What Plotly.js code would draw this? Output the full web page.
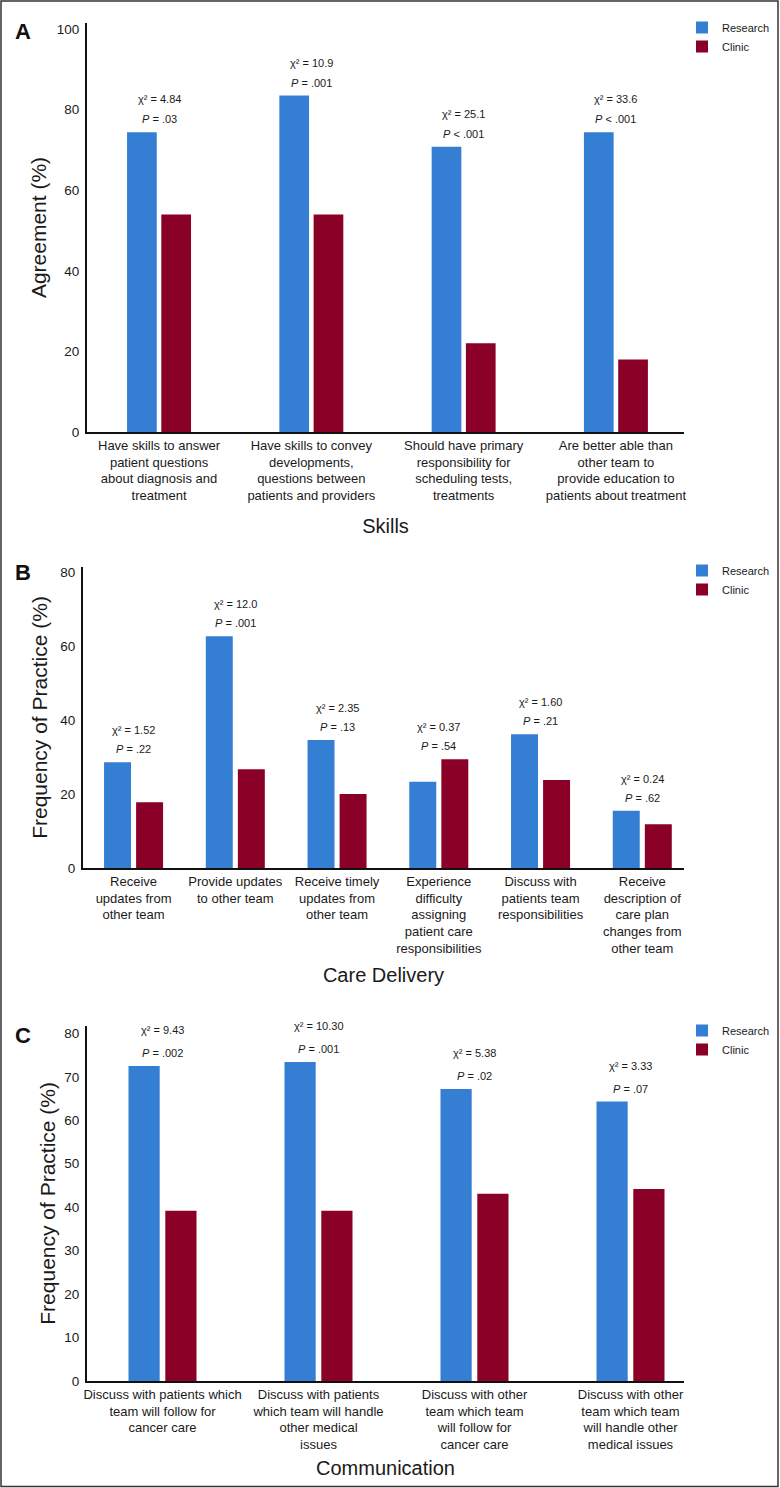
<!DOCTYPE html>
<html>
<head>
<meta charset="utf-8">
<script src="https://cdn.plot.ly/plotly-3.0.1.min.js"></script>
<style>
  html, body { margin: 0; padding: 0; background: #fff; }
  #chart { width: 780px; height: 1488px; }
</style>
</head>
<body>
<div id="chart"></div>
<script>
// ---------- DATA ----------
const seriesNames = ["Research", "Clinic"];

const skillsCategories = [
  "Have skills to answer<br>patient questions<br>about diagnosis and<br>treatment",
  "Have skills to convey<br>developments,<br>questions between<br>patients and providers",
  "Should have primary<br>responsibility for<br>scheduling tests,<br>treatments",
  "Are better able than<br>other team to<br>provide education to<br>patients about treatment"
];
const skillsResearch = [74.4, 83.5, 70.8, 74.4];
const skillsClinic = [54.0, 54.0, 22.0, 18.0];
const skillsChi = ["4.84", "10.9", "25.1", "33.6"];
const skillsP = ["= .03", "= .001", "< .001", "< .001"];

const careCategories = [
  "Receive<br>updates from<br>other team",
  "Provide updates<br>to other team",
  "Receive timely<br>updates from<br>other team",
  "Experience<br>difficulty<br>assigning<br>patient care<br>responsibilities",
  "Discuss with<br>patients team<br>responsibilities",
  "Receive<br>description of<br>care plan<br>changes from<br>other team"
];
const careResearch = [28.6, 62.7, 34.6, 23.3, 36.2, 15.5];
const careClinic = [17.8, 26.7, 20.0, 29.4, 23.8, 11.8];
const careChi = ["1.52", "12.0", "2.35", "0.37", "1.60", "0.24"];
const careP = ["= .22", "= .001", "= .13", "= .54", "= .21", "= .62"];

const commCategories = [
  "Discuss with patients which<br>team will follow for<br>cancer care",
  "Discuss with patients<br>which team will handle<br>other medical<br>issues",
  "Discuss with other<br>team which team<br>will follow for<br>cancer care",
  "Discuss with other<br>team which team<br>will handle other<br>medical issues"
];
const commResearch = [72.5, 73.4, 67.2, 64.3];
const commClinic = [39.2, 39.2, 43.1, 44.2];
const commChi = ["9.43", "10.30", "5.38", "3.33"];
const commP = ["= .002", "= .001", "= .02", "= .07"];

// ---------- LAYOUT HELPERS ----------
const W = 780, H = 1488;
const px = v => v / W;
const py = v => 1 - v / H;
const BLUE = "#347ed4";
const RED = "#8a0027";
const TXT = "#1a1a1a";
const FONT = "Liberation Sans, Arial, sans-serif";
const TITLEFONT = "Liberation Sans Narrow, Liberation Sans, Arial, sans-serif";

const panels = [
  { letter: "A", cats: skillsCategories, r: skillsResearch, c: skillsClinic, chi: skillsChi, p: skillsP,
    xtitle: "Skills", ytitle: "Agreement (%)", xStandoff: 17, yStandoff: 4,
    xdom: [87, 684], ytop: 23, ybot: 432, yrange: [0, 101.5], dtick: 20,
    xrange: [-0.473, 3.447], w: 0.195, off: [-0.21, 0.015], chiShift: 33, pShift: 13,
    letterY: 31, legendTop: 13 },
  { letter: "B", cats: careCategories, r: careResearch, c: careClinic, chi: careChi, p: careP,
    xtitle: "Care Delivery", ytitle: "Frequency of Practice (%)", xStandoff: 13, yStandoff: 7,
    xdom: [83, 684], ytop: 567, ybot: 868, yrange: [0, 81.4], dtick: 20,
    xrange: [-0.497, 5.41], w: 0.265, off: [-0.29, 0.025], chiShift: 32, pShift: 13,
    letterY: 573, legendTop: 556 },
  { letter: "C", cats: commCategories, r: commResearch, c: commClinic, chi: commChi, p: commP,
    xtitle: "Communication", ytitle: "Frequency of Practice (%)", xStandoff: 10, yStandoff: 3,
    xdom: [87, 684], ytop: 1025.7, ybot: 1381, yrange: [0, 81.75], dtick: 10,
    xrange: [-0.484, 3.343], w: 0.2, off: [-0.218, 0.018], chiShift: 35.5, pShift: 13,
    letterY: 1035, legendTop: 1016 }
];

const data = [];
const annotations = [];
const layout = {
  width: W, height: H,
  margin: { l: 0, r: 0, t: 0, b: 0 },
  paper_bgcolor: "#fff", plot_bgcolor: "#fff",
  barmode: "overlay",
  font: { family: FONT, color: TXT, size: 13 },
  shapes: [{
    type: "rect", xref: "paper", yref: "paper",
    x0: px(1), x1: px(778), y0: py(1486.5), y1: py(1),
    line: { color: "#333", width: 1.5 }, fillcolor: "rgba(0,0,0,0)"
  }],
  annotations: annotations
};

panels.forEach((P, i) => {
  const n = i + 1;
  const xa = n === 1 ? "x" : "x" + n;
  const ya = n === 1 ? "y" : "y" + n;
  const xKey = n === 1 ? "xaxis" : "xaxis" + n;
  const yKey = n === 1 ? "yaxis" : "yaxis" + n;
  const lg = n === 1 ? "legend" : "legend" + n;

  [P.r, P.c].forEach((vals, s) => {
    data.push({
      type: "bar", name: seriesNames[s], x: P.cats, y: vals,
      xaxis: xa, yaxis: ya, legend: lg,
      width: P.w, offset: P.off[s],
      marker: { color: s === 0 ? BLUE : RED, line: { width: 0 } },
      hoverinfo: "x+y+name"
    });
  });

  layout[xKey] = {
    domain: [px(P.xdom[0]), px(P.xdom[1])],
    anchor: ya, type: "category", range: P.xrange,
    showline: true, linecolor: "#111", linewidth: 2,
    ticks: "", showgrid: false, zeroline: false,
    tickfont: { family: FONT, size: 13, color: TXT },
    tickangle: 0,
    title: { text: P.xtitle, font: { family: TITLEFONT, size: 20, color: TXT }, standoff: P.xStandoff }
  };
  layout[yKey] = {
    domain: [py(P.ybot), py(P.ytop)],
    anchor: xa, range: P.yrange, dtick: P.dtick, tick0: 0,
    showline: true, linecolor: "#111", linewidth: 2,
    ticks: "", showgrid: false, zeroline: false,
    ticklabelstandoff: 3,
    tickfont: { family: FONT, size: 13.5, color: TXT },
    title: { text: P.ytitle, font: { family: TITLEFONT, size: 21, color: TXT }, standoff: P.yStandoff }
  };
  layout[lg] = {
    x: px(682), y: py(P.legendTop), xanchor: "left", yanchor: "top",
    bgcolor: "rgba(0,0,0,0)", borderwidth: 0,
    font: { family: FONT, size: 11, color: TXT },
    itemwidth: 30, tracegroupgap: 0
  };

  annotations.push({
    xref: "paper", yref: "paper", x: px(23), y: py(P.letterY),
    text: "<b>" + P.letter + "</b>", showarrow: false,
    xanchor: "center", yanchor: "middle",
    font: { family: FONT, size: 22, color: "#111" }
  });

  P.cats.forEach((cat, k) => {
    const top = Math.max(P.r[k], P.c[k]);
    annotations.push({
      xref: xa, yref: ya, x: cat, y: top,
      text: "\u03c7\u00b2 = " + P.chi[k], showarrow: false,
      xanchor: "center", yanchor: "middle", yshift: P.chiShift,
      font: { family: FONT, size: 11, color: TXT }
    });
    annotations.push({
      xref: xa, yref: ya, x: cat, y: top,
      text: "<i>P</i> " + P.p[k], showarrow: false,
      xanchor: "center", yanchor: "middle", yshift: P.pShift,
      font: { family: FONT, size: 11, color: TXT }
    });
  });
});

Plotly.newPlot("chart", data, layout, { displayModeBar: false, staticPlot: true });
</script>
</body>
</html>
